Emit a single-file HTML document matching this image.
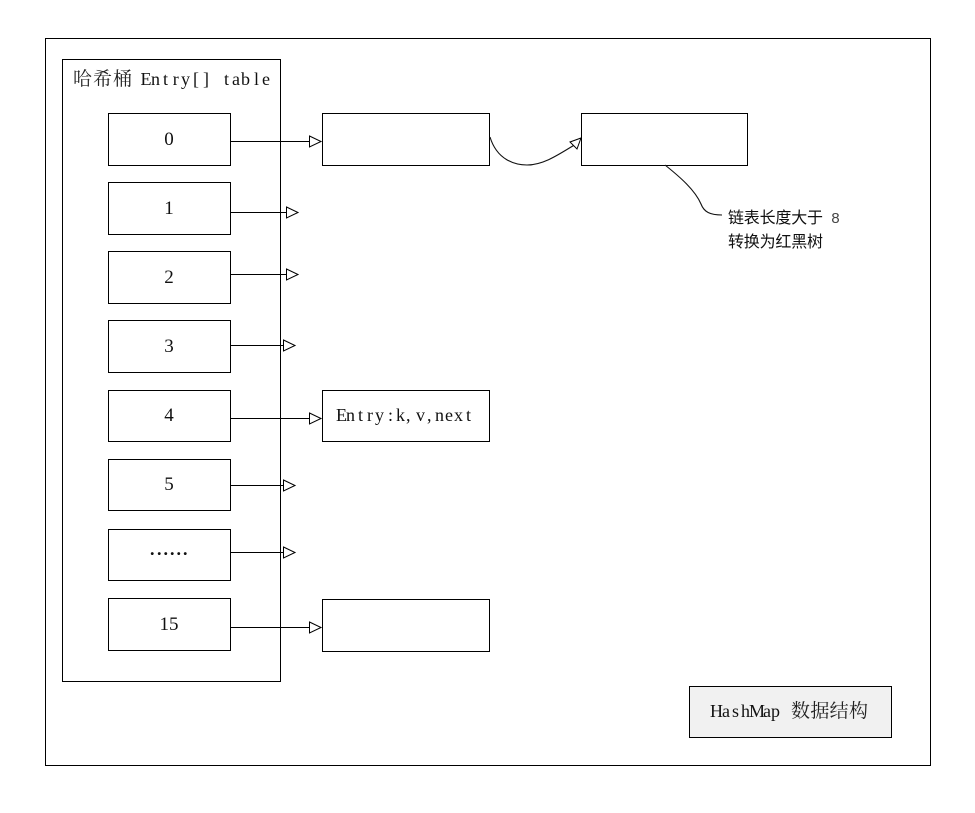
<!DOCTYPE html>
<html>
<head>
<meta charset="utf-8">
<style>
html,body{margin:0;padding:0;background:#fff;}
svg{display:block;}
text{font-family:"Liberation Serif","Noto Serif CJK SC",serif;font-size:18px;fill:#111;}
.c{font-family:"Noto Serif CJK SC","Liberation Serif",serif;font-size:19px;fill:#222;}
.s{font-family:"WenQuanYi Zen Hei","Noto Sans CJK SC",sans-serif;font-size:16px;}
.n{text-anchor:middle;font-family:"Liberation Serif",serif;font-size:19px;}
.b{fill:#fff;stroke:#000;stroke-width:1;shape-rendering:crispEdges;}
.l{stroke:#000;stroke-width:1;fill:none;shape-rendering:crispEdges;}
.h{fill:#fff;stroke:#000;stroke-width:1;}
.v{stroke:#111;stroke-width:1.1;fill:none;}
</style>
</head>
<body>
<svg width="975" height="813" viewBox="0 0 975 813" xmlns="http://www.w3.org/2000/svg">
<rect x="0" y="0" width="975" height="813" fill="#fff"/>
<rect class="b" x="45.5" y="38.5" width="885" height="727"/>
<rect class="b" x="62.5" y="59.5" width="218" height="622"/>

<text class="c" x="73" y="85" textLength="59" lengthAdjust="spacing">哈希桶</text>
<text x="140.500 151 163 172.800 181 193 203 213 224 232 241 254 262" y="85">Entry[] table</text>

<rect class="b" x="108.5" y="113.5" width="122" height="52"/>
<rect class="b" x="108.5" y="182.5" width="122" height="52"/>
<rect class="b" x="108.5" y="251.5" width="122" height="52"/>
<rect class="b" x="108.5" y="320.5" width="122" height="52"/>
<rect class="b" x="108.5" y="390.5" width="122" height="51"/>
<rect class="b" x="108.5" y="459.5" width="122" height="51"/>
<rect class="b" x="108.5" y="529.5" width="122" height="51"/>
<rect class="b" x="108.5" y="598.5" width="122" height="52"/>

<text class="n" x="169" y="145">0</text>
<text class="n" x="169" y="214">1</text>
<text class="n" x="169" y="283">2</text>
<text class="n" x="169" y="352">3</text>
<text class="n" x="169" y="421">4</text>
<text class="n" x="169" y="490">5</text>
<text x="150 157 163.5 170 176.5 183" y="555" style="font-weight:bold;font-size:18px">......</text>
<text class="n" x="169" y="630">15</text>

<rect class="b" x="322.5" y="113.5" width="167" height="52"/>
<rect class="b" x="581.5" y="113.5" width="166" height="52"/>
<rect class="b" x="322.5" y="390.5" width="167" height="51"/>
<rect class="b" x="322.5" y="599.5" width="167" height="52"/>
<rect class="b" x="689.5" y="686.5" width="202" height="51" style="fill:#f1f1f1"/>

<text x="336 346 358 367 375 388 396 406 411 416 427 431 435 445 454 466" y="421">Entry:k, v, next</text>
<text x="710 722 732 741 749 763 771" y="717">HashMap</text>
<text class="c" x="791" y="717" textLength="77" lengthAdjust="spacing">数据结构</text>

<line class="l" x1="231" y1="141.5" x2="309" y2="141.5"/>
<polygon class="h" points="309.5,136 321,141.5 309.5,147"/>
<line class="l" x1="231" y1="212.5" x2="286" y2="212.5"/>
<polygon class="h" points="286.5,207 298,212.5 286.5,218"/>
<line class="l" x1="231" y1="274.5" x2="286" y2="274.5"/>
<polygon class="h" points="286.5,269 298,274.5 286.5,280"/>
<line class="l" x1="231" y1="345.5" x2="283" y2="345.5"/>
<polygon class="h" points="283.5,340 295,345.5 283.5,351"/>
<line class="l" x1="231" y1="418.5" x2="309" y2="418.5"/>
<polygon class="h" points="309.5,413 321,418.5 309.5,424"/>
<line class="l" x1="231" y1="485.5" x2="283" y2="485.5"/>
<polygon class="h" points="283.5,480 295,485.5 283.5,491"/>
<line class="l" x1="231" y1="552.5" x2="283" y2="552.5"/>
<polygon class="h" points="283.5,547 295,552.5 283.5,558"/>
<line class="l" x1="231" y1="627.5" x2="309" y2="627.5"/>
<polygon class="h" points="309.5,622 321,627.5 309.5,633"/>

<path class="v" d="M490 137 C497 160 515 165 527 165 C543 165 558 155 573.5 145.5"/>
<polygon class="h" points="581,138 570,142 577,149"/>

<path class="v" d="M665 165 C680 177 695 190 701 204 C704 212 710 215 722 215"/>

<text class="s" x="728" y="223" textLength="95" lengthAdjust="spacing">链表长度大于</text>
<text x="831" y="223" style="font-size:15px;fill:#444;font-family:'Liberation Mono',monospace">8</text>
<text class="s" x="728" y="247" textLength="95" lengthAdjust="spacing">转换为红黑树</text>
</svg>
</body>
</html>
